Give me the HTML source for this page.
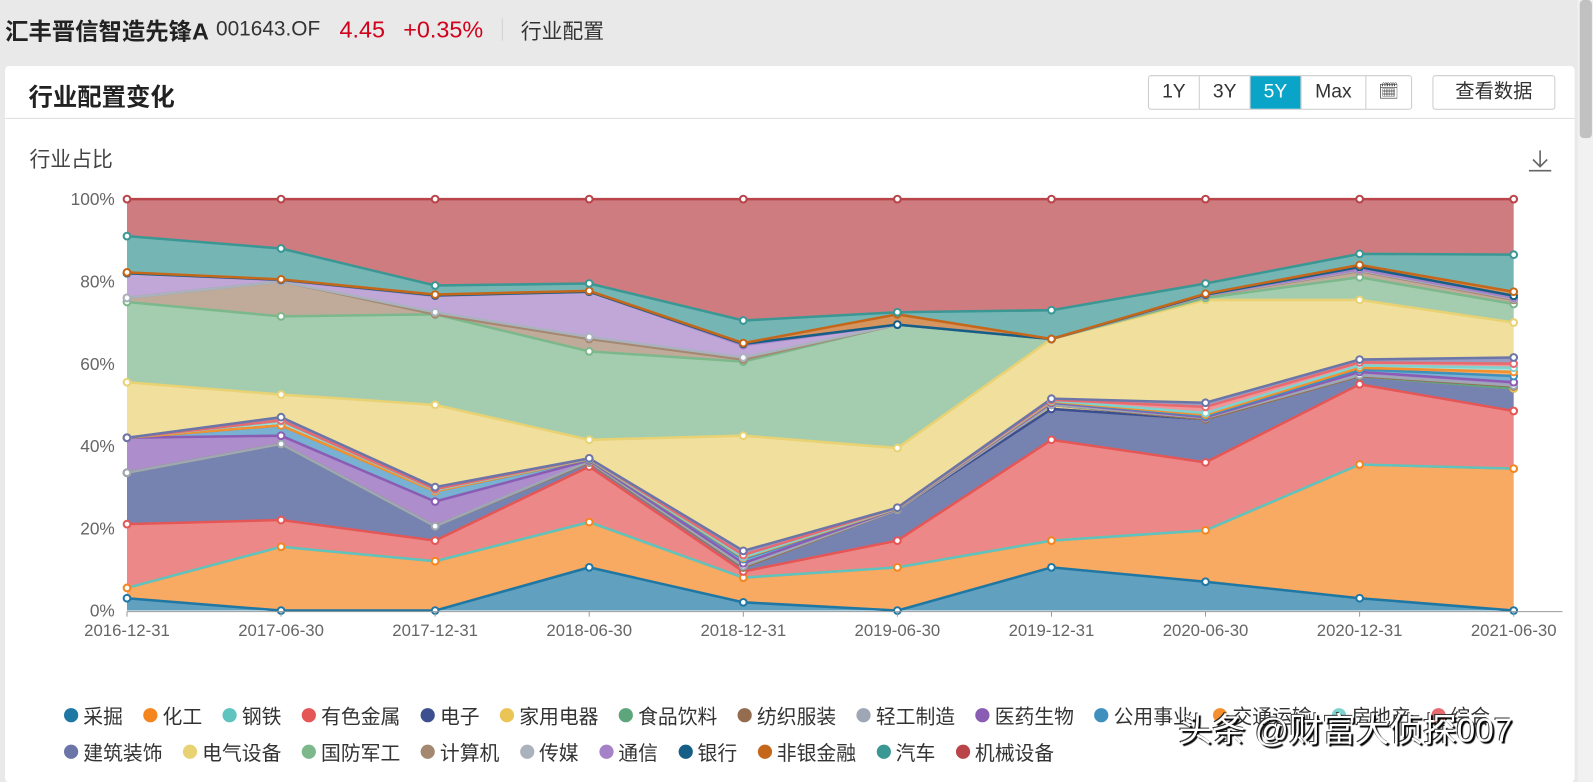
<!DOCTYPE html>
<html><head><meta charset="utf-8">
<style>
html,body{margin:0;width:1593px;height:770px;overflow:hidden;background:#e9e9e9}
#wrap{position:absolute;left:0;top:0;width:1568px;height:758px;transform:scale(1.0159);transform-origin:0 0;font-family:"Liberation Sans","Noto Sans CJK SC",sans-serif}
.top{position:absolute;left:0;top:0;height:58px;width:1550px;display:flex;align-items:center;font-size:19px}
.card{position:absolute;left:5px;top:65px;width:1545px;height:705px;background:#fff;border-radius:4px;overflow:hidden}
.scroll{position:absolute;left:1553px;top:0;width:16px;height:770px;background:#f1f1f1}
.thumb{position:absolute;left:1555px;top:0;width:12px;height:136px;background:#c1c1c1;border-radius:4px}
.btns{position:absolute;left:1130px;top:74px;display:flex;border:1px solid #ccc;border-radius:3px;height:32px}
.btns div{width:49px;text-align:center;line-height:32px;font-size:19px;color:#333;border-right:1px solid #ccc}
.legend{position:absolute;left:63px;display:flex;gap:20px;font-size:19.5px;color:#333}
.legend span{display:flex;align-items:center}
.legend i{display:inline-block;width:14px;height:14px;border-radius:50%;margin-right:5px}
</style></head><body>
<div id="wrap">
<div class="top">
 <b style="margin-left:5px;font-size:23px;color:#222">汇丰晋信智造先锋A</b>
 <span style="margin-left:7px;font-size:20.5px;color:#333">001643.OF</span>
 <span style="margin-left:19px;font-size:23px;color:#d0021b">4.45</span>
 <span style="margin-left:18px;font-size:23px;color:#d0021b">+0.35%</span>
 <span style="margin-left:18px;width:1px;height:22px;background:#d0d0d0"></span>
 <span style="margin-left:18px;font-size:20.5px;color:#333">行业配置</span>
</div>
<div class="card">
 <div style="position:absolute;left:23px;top:11px;font-size:24px;font-weight:bold;color:#222">行业配置变化</div>
 <div style="position:absolute;left:0;top:51px;width:100%;height:1px;background:#ddd"></div>
 <div style="position:absolute;left:24px;top:75px;font-size:20.5px;color:#444">行业占比</div>
</div>
<div class="btns">
 <div>1Y</div>
 <div>3Y</div>
 <div style="background:#0aa4c8;color:#fff">5Y</div>
 <div style="width:63px">Max</div>
 <div style="width:44px;border-right:none;font-size:16px">&#x1F5D3;&#xFE0E;</div>
</div>
<div style="position:absolute;left:1410px;top:74px;width:119px;height:32px;border:1px solid #ccc;border-radius:3px;text-align:center;line-height:32px;font-size:19px;color:#333">查看数据</div>
<svg style="position:absolute;left:1503px;top:146px" width="26" height="24"><path d="M13 2v16M6 11l7 7 7-7M2 22h22" stroke="#666" stroke-width="1.6" fill="none"/></svg>
<svg id="chart" style="position:absolute;left:0;top:0" width="1538" height="758"></svg>
<div class="legend" style="top:689px" id="lg1"></div>
<div class="legend" style="top:725px" id="lg2"></div>
<div style="position:absolute;left:1160px;top:692px;font-size:33px;color:#fff;text-shadow:2px 2px 1px #000,-1px -1px 0 #333">头条 @财富大侦探007</div>
<div class="scroll"></div><div class="thumb"></div>
</div>
<script>
const dates=["2016-12-31","2017-06-30","2017-12-31","2018-06-30","2018-12-31","2019-06-30","2019-12-31","2020-06-30","2020-12-31","2021-06-30"];
const names=["采掘","化工","钢铁","有色金属","电子","家用电器","食品饮料","纺织服装","轻工制造","医药生物","公用事业","交通运输","房地产","综合","建筑装饰","电气设备","国防军工","计算机","传媒","通信","银行","非银金融","汽车","机械设备"];
const colors=["#1f77a4","#f5851f","#5fc4c0","#e45756","#3c4f8f","#eac454","#5da57a","#946c50","#9ea8b4","#8a5db5","#3f90bd","#f5902e","#7fd3cf","#e86a6e","#6c75a8","#e9d274","#7cb88c","#a58870","#aab2be","#a582c8","#155e85","#c5671a","#3a9794","#b9444a"];
const tickLabels=["0%","20%","40%","60%","80%","100%"];
const v_caijue=[3,0,0,10.5,2,0,10.5,7,3,0];
const v_huagong=[2.5,15.5,12,11,6,10.5,6.5,12.5,32.5,34.5];
const v_gangtie=[0,0,0,0,0,0,0,0,0,0];
const v_youse=[15.5,6.5,5,13.5,1.5,6.5,24.5,16.5,19.5,14];
const v_dianzi=[12.5,18.5,3.5,1,1,7.5,7.5,10.5,2,5.5];
const v_jiadian=[0,0,0,0,0,0,1,0,0,0];
const v_shipin=[0,0,0,0,0,0,0,0,0,0];
const v_fangzhi=[0,0,0,0,0,0,0,0,0,0.5];
const v_qinggong=[0,0,0,0.2,0.3,0,0,0.3,0.2,0.2];
const v_yiyao=[8.5,2,6,0.3,0.7,0.2,0.5,0.2,0.8,0.8];
const v_gongyong=[0,2.5,2.5,0.2,1,0.1,0.2,0.3,0.6,1.5];
const v_jiaotong=[0,0,0,0.1,0.3,0,0.1,0.3,0.4,1];
const v_fangdichan=[0,1,0.3,0.1,0.2,0.1,0.2,0.4,0.6,1];
const v_zonghe=[0,0.2,0.2,0.1,0.5,0.1,0.2,1.5,0.7,1];
const v_jianzhu=[0,0.8,0.5,0,1,0,0.3,1,0.7,1.5];
const v_dianqi=[13.5,5.5,20,4.5,28,14.5,14.5,25,14.5,8.5];
const v_guofang=[19.5,19,22,21.5,18,30,0,0.5,5.5,4.5];
const v_jisuanji=[1,8.5,0,3,0.5,0,0,0.5,1.5,1];
const v_chuanmei=[0,0,0.5,0.5,0.5,0,0,0.1,0.2,0.3];
const v_tongxin=[6,0.3,4,11,3,0,0,0.1,0.2,0.2];
const v_yinhang=[0,0.1,0.1,0,0.3,0,0,0.1,0.6,0.5];
const v_feiyin=[0.2,0.1,0.2,0.2,0.2,2.5,0,0.2,0.5,1];
const v_qiche=[8.8,7.5,2.2,1.8,5.5,0.5,7,2.5,2.7,9];
const v_jixie=[9,12,21,20.5,29.5,27.5,27,20.5,13.3,13.5];
const series=[v_caijue,v_huagong,v_gangtie,v_youse,v_dianzi,v_jiadian,v_shipin,v_fangzhi,v_qinggong,v_yiyao,v_gongyong,v_jiaotong,v_fangdichan,v_zonghe,v_jianzhu,v_dianqi,v_guofang,v_jisuanji,v_chuanmei,v_tongxin,v_yinhang,v_feiyin,v_qiche,v_jixie];

const NS="http://www.w3.org/2000/svg";
const svg=document.getElementById('chart');
const X0=125,X1=1490,Y0=601,Y1=196;
const xS=i=>X0+(X1-X0)*i/(dates.length-1);
const yS=v=>Y0-(Y0-Y1)*v/100;
function mk(t,a){const e=document.createElementNS(NS,t);for(const k in a)e.setAttribute(k,a[k]);svg.appendChild(e);return e;}
tickLabels.forEach((t,i)=>{const e=mk('text',{x:113,y:yS(i*20)+6,'text-anchor':'end','font-size':17,fill:'#666'});e.textContent=t;

});
let base=dates.map(()=>0);const tops=[];
series.forEach((s,k)=>{const top=base.map((b,i)=>b+s[i]);
 let d='M'+top.map((v,i)=>xS(i)+','+yS(v)).join('L');
 for(let i=dates.length-1;i>=0;i--)d+='L'+xS(i)+','+yS(base[i]);
 const a=mk('path',{d:d+'Z',fill:colors[k],'fill-opacity':0.7,stroke:'none'});
 
 
 tops.push(top);base=top;});
tops.forEach((top,k)=>{const l=mk('polyline',{points:top.map((v,i)=>xS(i)+','+yS(v)).join(' '),fill:'none',stroke:colors[k],'stroke-width':2.5});
 
 });
tops.forEach((top,k)=>{if(series[k].every(v=>v===0))return;top.forEach((v,i)=>{const c=mk('circle',{cx:xS(i),cy:yS(v),r:3.3,fill:'#fff',stroke:colors[k],'stroke-width':2});
 
 });});
mk('line',{x1:X0,y1:Y0+1,x2:1540,y2:Y0+1,stroke:'#999','stroke-width':1});
dates.forEach((d,i)=>{mk('line',{x1:xS(i),y1:Y0+1,x2:xS(i),y2:Y0+6,stroke:'#999'});
 const t=mk('text',{x:xS(i),y:626,'text-anchor':'middle','font-size':16.5,fill:'#666'});t.textContent=d;
 
 });
names.forEach((n,k)=>{const sp=document.createElement('span');
 
 
 sp.innerHTML='<i style="background:'+colors[k]+'"></i>'+n;
 document.getElementById(k<14?'lg1':'lg2').appendChild(sp);});
</script>
</body></html>
